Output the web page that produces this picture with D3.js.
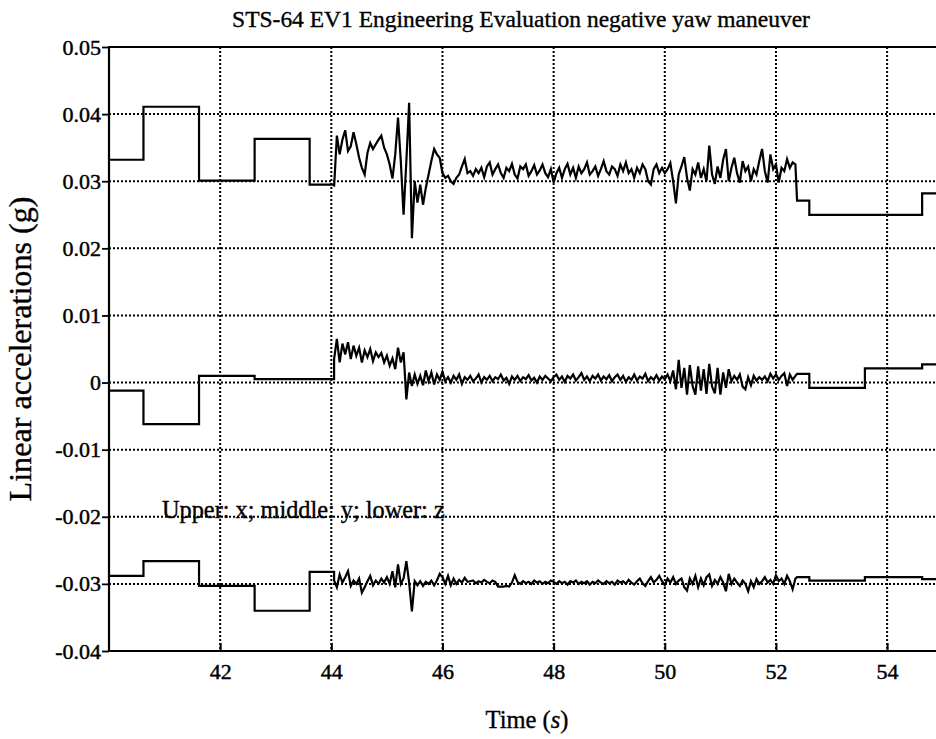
<!DOCTYPE html>
<html><head><meta charset="utf-8">
<script src="https://cdn.jsdelivr.net/npm/d3@7"></script>
<style>body{margin:0;background:#fff}svg{display:block}</style>
</head><body><svg id="c" width="936" height="739"></svg>
<script>
// ---------- data ----------
const titleText = "STS-64 EV1 Engineering Evaluation negative yaw maneuver";
const yLabelText = "Linear accelerations (g)";
const noteText = "Upper: x; middle: y; lower: z";
const xTicks = [42, 44, 46, 48, 50, 52, 54];
const yTicks = [0.05, 0.04, 0.03, 0.02, 0.01, 0, -0.01, -0.02, -0.03, -0.04];
const yTickLabels = ["0.05", "0.04", "0.03", "0.02", "0.01", "0", "-0.01", "-0.02", "-0.03", "-0.04"];
const xDomain = [40, 55];
const yDomain = [-0.04, 0.05];

// held (stepped) samples before and after the dense segment
const preTimes = [40, 40.62, 41.62, 42.62, 43.61];
const postTimes = [52.38, 52.6, 53.6, 54.63];
const endTime = 55;
// dense segment: sampled every noiseStep seconds from noiseStart
const noiseStart = 44.05;
const noiseStep = 0.05;

const xPre = [0.0332, 0.0411, 0.0301, 0.0363, 0.0295];
const xNoise = [
0.0292,0.0368,0.0340,0.0362,0.0376,0.0345,0.0352,0.0373,0.0355,0.0335,
0.0320,0.0310,0.0342,0.0357,0.0348,0.0355,0.0362,0.0368,0.0350,0.0340,
0.0325,0.0304,0.0340,0.0395,0.0330,0.0250,0.0330,0.0417,0.0215,0.0300,
0.0268,0.0295,0.0265,0.0290,0.0310,0.0330,0.0348,0.0340,0.0335,0.0312,
0.0305,0.0308,0.0300,0.0296,0.0305,0.0310,0.0322,0.0333,0.0312,0.0315,
0.0308,0.0318,0.0312,0.0320,0.0306,0.0322,0.0328,0.0310,0.0318,0.0325,
0.0312,0.0305,0.0320,0.0315,0.0326,0.0310,0.0304,0.0322,0.0318,0.0325,
0.0308,0.0315,0.0324,0.0310,0.0316,0.0325,0.0312,0.0306,0.0318,0.0298,
0.0312,0.0320,0.0305,0.0318,0.0326,0.0310,0.0320,0.0305,0.0322,0.0312,
0.0318,0.0328,0.0310,0.0315,0.0322,0.0308,0.0318,0.0330,0.0315,0.0310,
0.0322,0.0318,0.0308,0.0325,0.0315,0.0328,0.0312,0.0318,0.0305,0.0320,
0.0312,0.0325,0.0318,0.0300,0.0295,0.0318,0.0325,0.0312,0.0320,0.0312,
0.0318,0.0327,0.0300,0.0267,0.0310,0.0322,0.0336,0.0305,0.0286,0.0318,
0.0310,0.0328,0.0305,0.0318,0.0300,0.0353,0.0310,0.0296,0.0322,0.0305,
0.0332,0.0348,0.0300,0.0320,0.0335,0.0312,0.0298,0.0330,0.0315,0.0322,
0.0300,0.0318,0.0310,0.0330,0.0348,0.0315,0.0298,0.0340,0.0318,0.0325,
0.0298,0.0320,0.0315,0.0333,0.0320,0.0328,0.0325];
const xPost = [0.0271, 0.0250, 0.0250, 0.0282];

const yPre = [-0.0012, -0.0062, 0.0010, 0.0005, 0.0005];
const yNoise = [
0.0035,0.0065,0.0030,0.0058,0.0042,0.0060,0.0035,0.0055,0.0040,0.0052,
0.0030,0.0048,0.0038,0.0050,0.0032,0.0045,0.0038,0.0044,0.0030,0.0040,
0.0025,0.0036,0.0020,0.0052,0.0030,0.0045,-0.0025,0.0015,-0.0005,0.0012,
-0.0002,0.0010,-0.0004,0.0018,0.0002,0.0015,-0.0003,0.0012,0.0004,0.0016,
0.0002,0.0008,0.0000,0.0010,0.0004,0.0012,-0.0002,0.0008,0.0004,0.0010,
0.0002,0.0006,0.0012,0.0000,0.0008,0.0004,0.0010,0.0002,0.0008,0.0005,
0.0012,0.0003,0.0007,-0.0002,0.0009,0.0004,0.0010,0.0002,0.0008,0.0005,
0.0011,0.0003,0.0007,0.0000,0.0009,0.0004,0.0010,0.0006,0.0002,0.0008,
0.0012,0.0004,0.0009,0.0001,0.0010,0.0006,0.0012,0.0003,0.0008,0.0014,
0.0004,0.0009,0.0002,0.0010,0.0006,0.0012,0.0003,0.0009,0.0005,0.0011,
0.0002,0.0008,0.0012,0.0004,0.0010,0.0001,0.0008,0.0004,0.0012,0.0003,
0.0009,0.0006,0.0013,0.0002,0.0008,0.0004,0.0011,0.0003,0.0009,0.0005,
0.0012,0.0002,0.0018,-0.0010,0.0034,-0.0008,0.0022,-0.0018,0.0026,-0.0005,
-0.0018,0.0024,-0.0012,0.0020,-0.0017,0.0028,-0.0006,-0.0016,0.0022,-0.0018,
0.0015,-0.0008,0.0020,0.0002,0.0010,0.0004,0.0012,-0.0006,-0.0010,0.0008,
-0.0004,0.0010,0.0003,0.0008,0.0004,0.0009,0.0002,0.0013,0.0006,0.0012,
0.0004,0.0010,0.0014,-0.0005,0.0012,0.0004,0.0010];
const yPost = [0.0013, -0.0008, 0.0021, 0.0027];

const zPre = [-0.0288, -0.0266, -0.0303, -0.0340, -0.0282];
const zNoise = [
-0.0295,-0.0305,-0.0286,-0.0298,-0.0290,-0.0281,-0.0303,-0.0295,-0.0300,-0.0292,
-0.0313,-0.0305,-0.0296,-0.0288,-0.0302,-0.0295,-0.0300,-0.0292,-0.0298,-0.0290,
-0.0300,-0.0281,-0.0305,-0.0271,-0.0300,-0.0292,-0.0266,-0.0298,-0.0341,-0.0296,
-0.0302,-0.0296,-0.0303,-0.0297,-0.0300,-0.0295,-0.0302,-0.0295,-0.0285,-0.0290,
-0.0300,-0.0288,-0.0302,-0.0292,-0.0300,-0.0294,-0.0298,-0.0291,-0.0297,-0.0296,
-0.0295,-0.0299,-0.0296,-0.0298,-0.0294,-0.0297,-0.0299,-0.0295,-0.0297,-0.0304,
-0.0304,-0.0304,-0.0303,-0.0304,-0.0298,-0.0287,-0.0297,-0.0300,-0.0296,-0.0299,
-0.0297,-0.0300,-0.0295,-0.0298,-0.0296,-0.0300,-0.0297,-0.0299,-0.0295,-0.0297,
-0.0300,-0.0296,-0.0299,-0.0297,-0.0301,-0.0296,-0.0298,-0.0295,-0.0300,-0.0297,
-0.0299,-0.0296,-0.0301,-0.0297,-0.0299,-0.0295,-0.0298,-0.0300,-0.0296,-0.0299,
-0.0297,-0.0301,-0.0295,-0.0298,-0.0296,-0.0300,-0.0294,-0.0298,-0.0301,-0.0296,
-0.0292,-0.0299,-0.0303,-0.0296,-0.0290,-0.0298,-0.0294,-0.0288,-0.0296,-0.0302,
-0.0292,-0.0298,-0.0290,-0.0300,-0.0295,-0.0292,-0.0305,-0.0310,-0.0292,-0.0300,
-0.0288,-0.0305,-0.0292,-0.0302,-0.0290,-0.0286,-0.0303,-0.0294,-0.0300,-0.0290,
-0.0298,-0.0311,-0.0285,-0.0300,-0.0292,-0.0298,-0.0303,-0.0295,-0.0300,-0.0311,
-0.0296,-0.0305,-0.0293,-0.0300,-0.0296,-0.0290,-0.0298,-0.0294,-0.0300,-0.0287,
-0.0296,-0.0292,-0.0300,-0.0288,-0.0296,-0.0308,-0.0292];
const zPost = [-0.0290, -0.0295, -0.0290, -0.0293];

// ---------- layout ----------
const svg = d3.select("#c");
const L = 109, T = 47, B = 651;
const x = d3.scaleLinear().domain(xDomain).range([L, L + 15 * 55.58]);
const y = d3.scaleLinear().domain(yDomain).range([B, T]);
const R = x(xDomain[1]);
const FONT = "'Liberation Serif','Times New Roman',serif";

// held samples become flat runs up to the next sample time; dense samples are joined directly
function buildSeries(pre, noise, post) {
  const pts = [];
  pre.forEach((v, i) => {
    const next = i + 1 < preTimes.length ? preTimes[i + 1] : noiseStart;
    pts.push([preTimes[i], v], [next, v]);
  });
  noise.forEach((v, i) => pts.push([noiseStart + i * noiseStep, v]));
  post.forEach((v, i) => {
    const next = i + 1 < postTimes.length ? postTimes[i + 1] : endTime;
    pts.push([postTimes[i], v], [next, v]);
  });
  return pts;
}

// grid
const grid = svg.append("g").attr("stroke", "#000").attr("stroke-width", 2)
  .attr("stroke-dasharray", "2,2").attr("fill", "none");
grid.selectAll("line.v").data(xTicks).join("line")
  .attr("x1", d => x(d)).attr("x2", d => x(d)).attr("y1", T).attr("y2", B);
grid.selectAll("line.h").data(yTicks.filter(d => d > yDomain[0] && d < yDomain[1])).join("line")
  .attr("x1", L).attr("x2", R).attr("y1", d => y(d)).attr("y2", d => y(d));

// frame
const frame = svg.append("g").attr("stroke", "#000").attr("stroke-width", 2.2).attr("fill", "none");
frame.append("line").attr("x1", L).attr("x2", L).attr("y1", T - 1).attr("y2", B + 1);
frame.append("line").attr("x1", L).attr("x2", R).attr("y1", B).attr("y2", B);
frame.append("line").attr("x1", L).attr("x2", R).attr("y1", T).attr("y2", T);

// y axis (ticks outward)
const yAxis = d3.axisLeft(y).tickValues(yTicks).tickFormat((d, i) => yTickLabels[i])
  .tickSize(7).tickPadding(2);
const gy = svg.append("g").attr("transform", `translate(${L},0)`).call(yAxis);
gy.select(".domain").remove();
gy.selectAll(".tick line").attr("stroke", "#000").attr("stroke-width", 1.8);
gy.selectAll(".tick text").style("font-family", FONT).style("font-size", "22px").attr("fill", "#000")
  .attr("stroke", "#000").attr("stroke-width", 0.45).attr("x", -8);

// x axis (ticks inward)
const xAxis = d3.axisBottom(x).tickValues(xTicks).tickFormat(d3.format("d"))
  .tickSizeInner(-8).tickSizeOuter(0).tickPadding(14);
const gx = svg.append("g").attr("transform", `translate(0,${B})`).call(xAxis);
gx.select(".domain").remove();
gx.selectAll(".tick line").attr("stroke", "#000").attr("stroke-width", 2);
gx.selectAll(".tick text").style("font-family", FONT).style("font-size", "22px").attr("fill", "#000")
  .attr("stroke", "#000").attr("stroke-width", 0.45).attr("y", 12).attr("dy", "0.71em");

// series
const line = d3.line().x(d => x(d[0])).y(d => y(d[1]));
const seriesList = [buildSeries(xPre, xNoise, xPost), buildSeries(yPre, yNoise, yPost), buildSeries(zPre, zNoise, zPost)];
svg.append("g").selectAll("path").data(seriesList).join("path")
  .attr("d", line).attr("fill", "none").attr("stroke", "#000")
  .attr("stroke-width", 2.2).attr("stroke-linejoin", "miter");

// texts
function fit(sel, w) {
  const n = sel.node();
  const cur = parseFloat(sel.attr("font-size"));
  const len = n.getComputedTextLength();
  sel.attr("font-size", cur * w / len);
}
function txt(xp, yp, anchor) {
  return svg.append("text").attr("x", xp).attr("y", yp).attr("text-anchor", anchor)
    .attr("font-family", FONT).attr("font-size", 20).attr("fill", "#000")
    .attr("stroke", "#000").attr("stroke-width", 0.35);
}
const title = txt(521, 27, "middle").text(titleText);
fit(title, 578);

const yl = svg.append("text").attr("transform", `translate(31,${(T + B) / 2}) rotate(-90)`)
  .attr("text-anchor", "middle").attr("font-family", FONT).attr("font-size", 20)
  .attr("stroke", "#000").attr("stroke-width", 0.35).text(yLabelText);
fit(yl, 305);

const note = txt(162, y(-0.02) + 1, "start").text(noteText);
fit(note, 283);

const xl = txt(527, 728, "middle");
xl.append("tspan").text("Time (");
xl.append("tspan").attr("font-style", "italic").text("s");
xl.append("tspan").text(")");
fit(xl, 83);
</script>
</body></html>
